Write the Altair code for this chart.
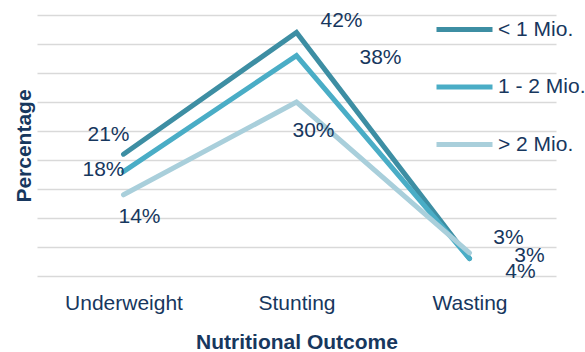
import altair as alt
import pandas as pd

# Nutritional outcomes by population size group (percent)
outcomes = ["Underweight", "Stunting", "Wasting"]
groups = ["< 1 Mio.", "1 - 2 Mio.", "> 2 Mio."]
small_pop = [21, 42, 3]
mid_pop = [18, 38, 3]
large_pop = [14, 30, 4]
colors = ["#3d8ea3", "#4aadc6", "#a9cfdb"]

series = dict(zip(groups, [small_pop, mid_pop, large_pop]))
rows = [
    {"group": g, "outcome": o, "value": v}
    for g in groups
    for o, v in zip(outcomes, series[g])
]
df = pd.DataFrame(rows)

FONT = "Liberation Sans"
INK = "#17375e"

# hand-placed label nudges (dx, dy) so the value labels don't collide
label_nudge = {
    ("< 1 Mio.", "Underweight"): (-15, -19),
    ("1 - 2 Mio.", "Underweight"): (-20, -2),
    ("> 2 Mio.", "Underweight"): (16, 22),
    ("< 1 Mio.", "Stunting"): (45, -11),
    ("1 - 2 Mio.", "Stunting"): (84, 2),
    ("> 2 Mio.", "Stunting"): (17, 29),
    ("< 1 Mio.", "Wasting"): (39, -21),
    ("1 - 2 Mio.", "Wasting"): (60, -3),
    ("> 2 Mio.", "Wasting"): (51, 19),
}

x_enc = alt.X(
    "outcome:N",
    sort=outcomes,
    scale=alt.Scale(type="point", padding=0.5),
    axis=alt.Axis(
        title="Nutritional Outcome",
        labelAngle=0,
        labelFont=FONT,
        labelFontSize=21,
        labelColor=INK,
        labelPadding=16,
        ticks=False,
        domain=False,
        grid=False,
        titleFont=FONT,
        titleFontSize=21,
        titleFontWeight="bold",
        titleColor=INK,
        titleBaseline="alphabetic",
        titleY=72,
    ),
)
y_enc = alt.Y(
    "value:Q",
    scale=alt.Scale(domain=[0, 45], nice=False, zero=True),
    axis=alt.Axis(
        title="Percentage",
        values=list(range(0, 46, 5)),
        labels=False,
        ticks=False,
        domain=False,
        grid=True,
        gridColor="#d9d9d9",
        gridWidth=1.6,
        titleFont=FONT,
        titleFontSize=21,
        titleFontWeight="bold",
        titleColor=INK,
        titleAngle=270,
        titleBaseline="alphabetic",
        titleX=-7,
    ),
)

lines = alt.Chart(df).mark_line(
    strokeWidth=5, strokeCap="round", strokeJoin="miter"
).encode(
    x=x_enc,
    y=y_enc,
    color=alt.Color(
        "group:N",
        sort=groups,
        scale=alt.Scale(domain=groups, range=colors),
        legend=alt.Legend(
            title=None,
            orient="none",
            legendX=397,
            legendY=-16,
            padding=0,
            symbolType="stroke",
            symbolSize=3136,
            symbolStrokeWidth=5,
            labelFont=FONT,
            labelFontSize=21,
            labelColor=INK,
            labelOffset=3,
            labelLimit=200,
            rowPadding=16.5,
        ),
    ),
    detail="group:N",
)

label_layers = []
for (g, o), (ddx, ddy) in label_nudge.items():
    label_layers.append(
        alt.Chart(df)
        .transform_filter((alt.datum.group == g) & (alt.datum.outcome == o))
        .transform_calculate(label="format(datum.value, 'd') + '%'")
        .mark_text(
            font=FONT, fontSize=21, color=INK, align="center",
            baseline="middle", dx=ddx, dy=ddy,
        )
        .encode(x=x_enc, y=y_enc, text="label:N")
    )

chart = (
    alt.layer(lines, *label_layers)
    .properties(
        width=519,
        height=261,
        autosize=alt.AutoSizeParams(type="none"),
        padding={"left": 37, "top": 15, "right": 29, "bottom": 76},
        background="white",
    )
    .configure_view(stroke=None)
)

chart.save("out.html", embed_options={"renderer": "svg", "actions": False})
